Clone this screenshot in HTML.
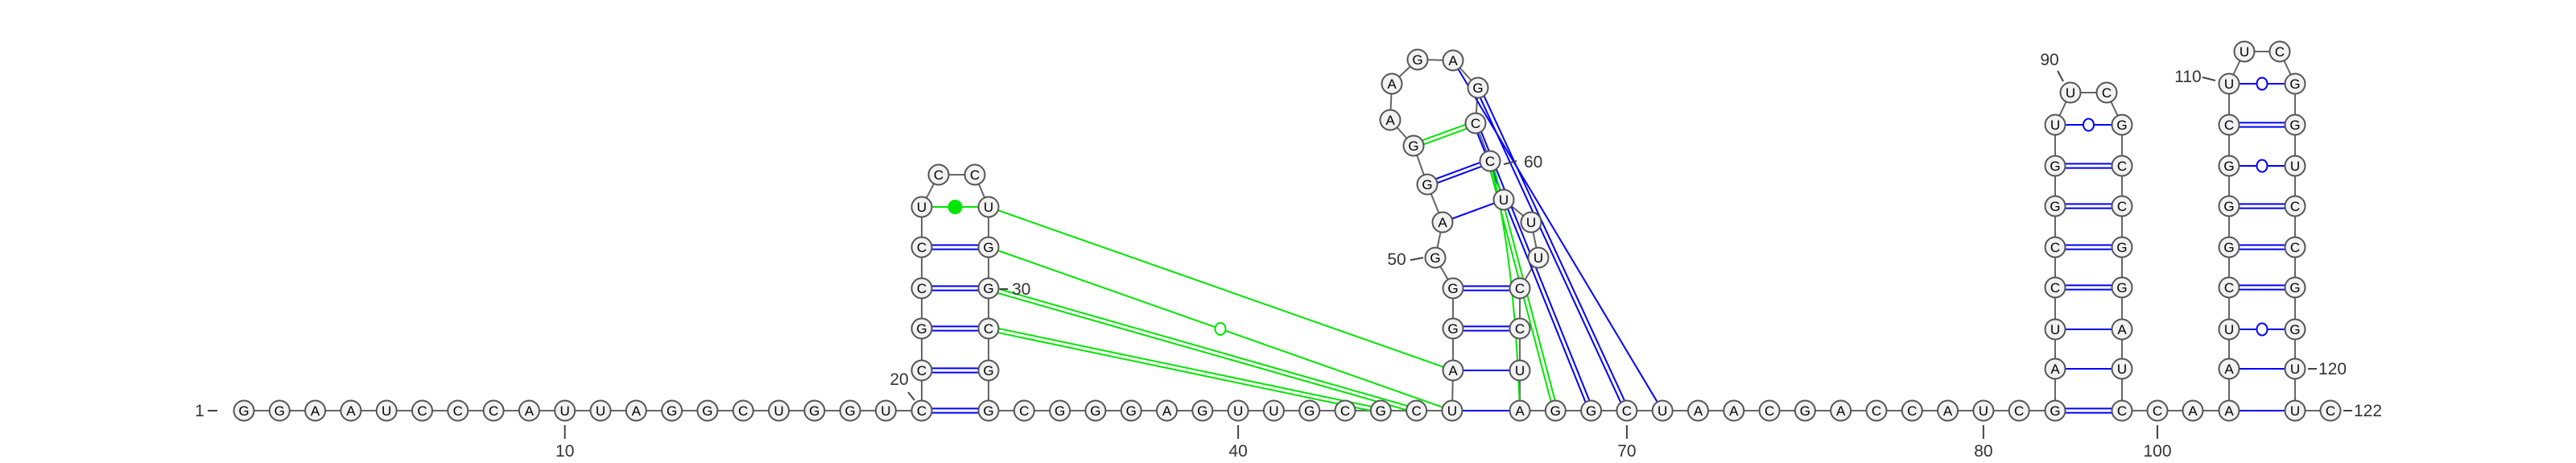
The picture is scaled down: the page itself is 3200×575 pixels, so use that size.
<!DOCTYPE html>
<html><head><meta charset="utf-8">
<style>
html,body{margin:0;padding:0;background:#fff;}
svg{display:block;}
text{font-family:"Liberation Sans",sans-serif;}
</style></head>
<body>
<svg id="rna" width="3200" height="575" viewBox="0 0 3200 575" xmlns="http://www.w3.org/2000/svg">
<g id="bb"></g><g id="pairs"></g><g id="nodes"></g><g id="labels"></g>
</svg>
<script>
const seq = "GGAAUCCCAUUAGGCUGGU" + "CCGCCUCCUGGCGG" + "CGGGAGUUGCGCU" + "AGGGAGGAAGAGCCUUUCCUA" + "GGCUAACGACCAUCG" + "AUCCGGUUCGCCGGAUC" + "CAAAUCGGGCUUCGGUCCGGUUC";
// [i, j, type]; d=double blue, s=single blue, w=blue wobble circle, gf=green filled, go=green open, gd=green double, gs=green single
const pairs = [
 [20,33,'d'],[21,32,'d'],[22,31,'d'],[23,30,'d'],[24,29,'d'],[25,28,'gf'],
 [46,67,'s'],[47,66,'s'],[48,65,'d'],[49,64,'d'],[51,61,'s'],[52,60,'d'],[53,59,'gd'],
 [82,99,'d'],[83,98,'s'],[84,97,'s'],[85,96,'d'],[86,95,'d'],[87,94,'d'],[88,93,'d'],[89,92,'w'],
 [102,121,'s'],[103,120,'s'],[104,119,'w'],[105,118,'d'],[106,117,'d'],[107,116,'d'],[108,115,'w'],[109,114,'d'],[110,113,'w'],
 [28,47,'gs'],[29,46,'go'],[30,45,'gd'],[31,44,'gd'],
 [57,71,'s'],[58,70,'d'],[59,69,'d'],[60,68,'gd'],[60,67,'gs']
];
const numLabels = [10,20,30,40,50,60,70,80,90,100,110,120,122];

const P = {};
const SP = 44.3, BY = 510;
for (let i=1;i<=20;i++) P[i]=[303+(i-1)*SP,BY];
const rows=[510,460,408,358,307,257];
for (let k=0;k<6;k++){P[20+k]=[1145,rows[k]];P[33-k]=[1228,rows[k]];}
P[26]=[1166,217];P[27]=[1211,217];
for (let i=33;i<=46;i++) P[i]=[1228+(i-33)*SP,BY];
Object.assign(P,{47:[1805,460],48:[1805,408],49:[1805,358],50:[1783,320],51:[1792,276],52:[1773,229],53:[1756,181],54:[1727,149],55:[1729,104],56:[1761,74],57:[1805,75],58:[1836,109],59:[1833,153],60:[1851,200],61:[1868,248],62:[1902,276],63:[1911,320],64:[1888,358],65:[1888,408],66:[1888,460],67:[1888,510]});
for (let i=67;i<=82;i++) P[i]=[1888+(i-67)*SP,BY];
const r3=[510,458,409,357,307,256,206,155];
for (let k=0;k<8;k++){P[82+k]=[2553,r3[k]];P[99-k]=[2636,r3[k]];}
P[90]=[2572,115];P[91]=[2617,115];
P[100]=[2680,BY];P[101]=[2724,BY];
const r4=[510,458,409,357,307,256,206,155,104];
for (let k=0;k<9;k++){P[102+k]=[2769,r4[k]];P[121-k]=[2851,r4[k]];}
P[111]=[2788,64];P[112]=[2832,64];P[122]=[2895,BY];

const NS="http://www.w3.org/2000/svg";
function mk(tag,attrs,parent){const e=document.createElementNS(NS,tag);for(const k in attrs)e.setAttribute(k,attrs[k]);parent.appendChild(e);return e;}
const bb=document.getElementById('bb'),pg=document.getElementById('pairs'),ng=document.getElementById('nodes'),lg=document.getElementById('labels');

for (let i=1;i<seq.length;i++){
  const a=P[i],b=P[i+1];
  const l=mk('line',{x1:a[0],y1:a[1],x2:b[0],y2:b[1],stroke:'#666','stroke-width':2},bb);
  
  
}
function line(a,b,col,off,w){
  const dx=b[0]-a[0],dy=b[1]-a[1],L=Math.hypot(dx,dy),nx=-dy/L*off,ny=dx/L*off;
  const l=mk('line',{x1:a[0]+nx,y1:a[1]+ny,x2:b[0]+nx,y2:b[1]+ny,stroke:col,'stroke-width':w||2},pg);
  
  
}
const BLUE='#0000ff',GREEN='#00e600';
pairs.forEach(p=>{
  const a=P[p[0]],b=P[p[1]],t=p[2];
  const col=t[0]==='g'?GREEN:BLUE;
  if(t==='d'||t==='gd'){line(a,b,col,-2.6,2);line(a,b,col,2.6,2);}
  else if(t==='gs' && p[0]===60){
    const q=mk('path',{d:`M${a[0]} ${a[1]} Q${a[0]+30} ${(a[1]+b[1])/2-40} ${b[0]} ${b[1]}`,fill:'none',stroke:col,'stroke-width':2},pg);
    
    
  }
  else line(a,b,col,0,2);
  if(t==='w'||t==='go'||t==='gf'){
    const c=mk('ellipse',{cx:(a[0]+b[0])/2,cy:(a[1]+b[1])/2,rx:t==='gf'?8:6.5,ry:t==='gf'?8:7.5,fill:t==='gf'?col:'#fff',stroke:col,'stroke-width':2},pg);
    
    
  }
});
for (let i=1;i<=seq.length;i++){
  const g=mk('g',{},ng);
  
  
  mk('circle',{cx:P[i][0],cy:P[i][1],r:12.5,fill:'#f2f2f2',stroke:'#555','stroke-width':2},g);
  const t=mk('text',{x:P[i][0],y:P[i][1]+6,'text-anchor':'middle','font-size':17,fill:'#000'},g);
  t.textContent=seq[i-1];
}
const labPos={1:[248,517,'middle',258,510,270,510],10:[P[10][0],567,'middle',P[10][0],528,P[10][0],545],
 20:[1117,478,'middle',1128,487,1136,497],30:[1257,366,'start',1242,359,1252,359],40:[P[40][0],567,'middle',P[40][0],528,P[40][0],545],
 50:[1735,329,'middle',1752,323,1768,320],60:[1893,208,'start',1868,204,1884,200],70:[P[70][0],567,'middle',P[70][0],528,P[70][0],545],
 80:[P[80][0],567,'middle',P[80][0],528,P[80][0],545],90:[2546,81,'middle',2556,88,2563,101],100:[P[100][0],567,'middle',P[100][0],528,P[100][0],545],
 110:[2718,102,'middle',2736,96,2752,100],120:[2880,465,'start',2867,458,2878,458],122:[2924,517,'start',2911,510,2922,510]};
[1].concat(numLabels).forEach(n=>{
  const L=labPos[n];
  const tk=mk('line',{x1:L[3],y1:L[4],x2:L[5],y2:L[6],stroke:'#444','stroke-width':2},lg);
  
  
  const t=mk('text',{x:L[0],y:L[1],'text-anchor':L[2],'font-size':21,fill:'#333'},lg);
  
  
  t.textContent=String(n);
});
</script>
</body></html>
